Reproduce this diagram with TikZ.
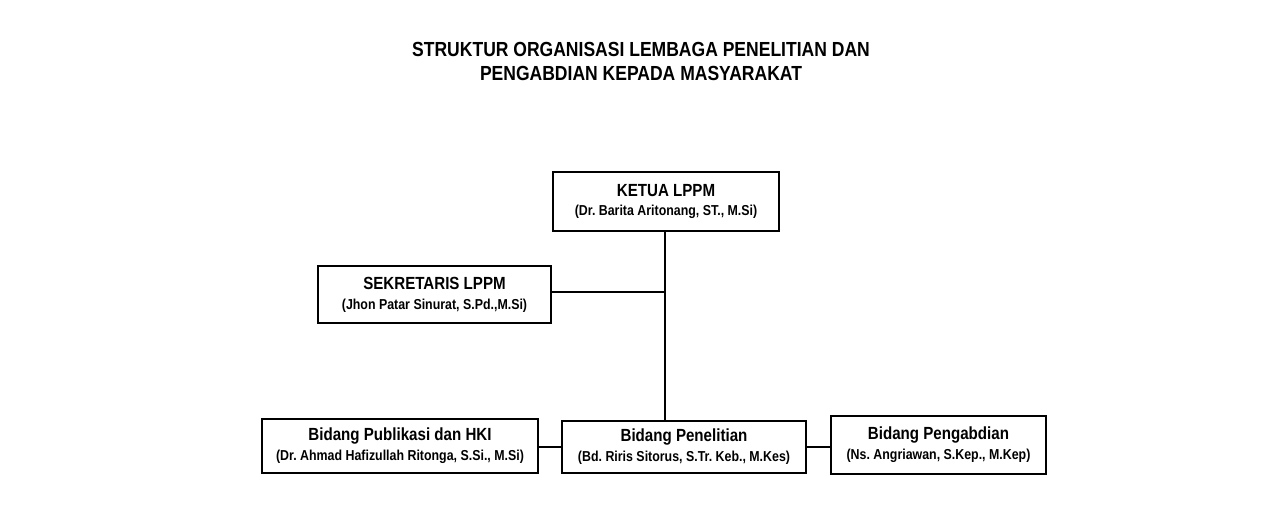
\documentclass[tikz,border=0pt]{standalone}
\usepackage{fontspec}
\setmainfont{Liberation Sans}[FakeStretch=0.86]
\usetikzlibrary{positioning}
\frenchspacing

\begin{document}
\begin{tikzpicture}[x=0.02cm,y=-0.02cm, every node/.style={font=\bfseries},
    box/.style={draw, line width=1.1pt, align=center, inner sep=0pt, font=\bfseries\fontsize{8.2}{11.3}\selectfont},
    link/.style={line width=1.1pt}]
    \useasboundingbox (0,0) rectangle (1283,529);
    \node[align=center, font=\bfseries\fontsize{11.6}{13.6}\selectfont] (judul) at (641,61.5) {STRUKTUR ORGANISASI LEMBAGA PENELITIAN DAN\\PENGABDIAN KEPADA MASYARAKAT};
    \node[box, minimum width=226*0.02cm, minimum height=59*0.02cm] (ketua) at (666,201.5) {{\fontsize{10}{12}\selectfont KETUA LPPM}\\(Dr. Barita Aritonang, ST., M.Si)};
    \node[box, minimum width=233*0.02cm, minimum height=57*0.02cm] (sekretaris) at (434.5,294.5) {{\fontsize{10}{12}\selectfont SEKRETARIS LPPM}\\(Jhon Patar Sinurat, S.Pd.,M.Si)};
    \node[box, minimum width=276*0.02cm, minimum height=54*0.02cm] (publikasi) at (400,446) {{\fontsize{10}{12}\selectfont Bidang Publikasi dan HKI}\\(Dr. Ahmad Hafizullah Ritonga, S.Si., M.Si)};
    \node[box, minimum width=244*0.02cm, minimum height=52*0.02cm] (penelitian) at (684,447) {{\fontsize{10}{12}\selectfont Bidang Penelitian}\\(Bd. Riris Sitorus, S.Tr. Keb., M.Kes)};
    \node[box, minimum width=215*0.02cm, minimum height=58*0.02cm] (pengabdian) at (938.5,445) {{\fontsize{10}{12}\selectfont Bidang Pengabdian}\\(Ns. Angriawan, S.Kep., M.Kep)};
    % garis
    \draw[link] ([xshift=-1*0.02cm]ketua.south) -- ([xshift=-1*0.02cm]ketua.south |- penelitian.north);
    \draw[link] ([yshift=2.5*0.02cm]sekretaris.east) -- ([xshift=-1*0.02cm,yshift=2.5*0.02cm]sekretaris.east -| ketua.south);
    \draw[link] (publikasi.east |- penelitian.west) -- (penelitian.west);
    \draw[link] (penelitian.east) -- (penelitian.east -| pengabdian.west);
\end{tikzpicture}
\end{document}
